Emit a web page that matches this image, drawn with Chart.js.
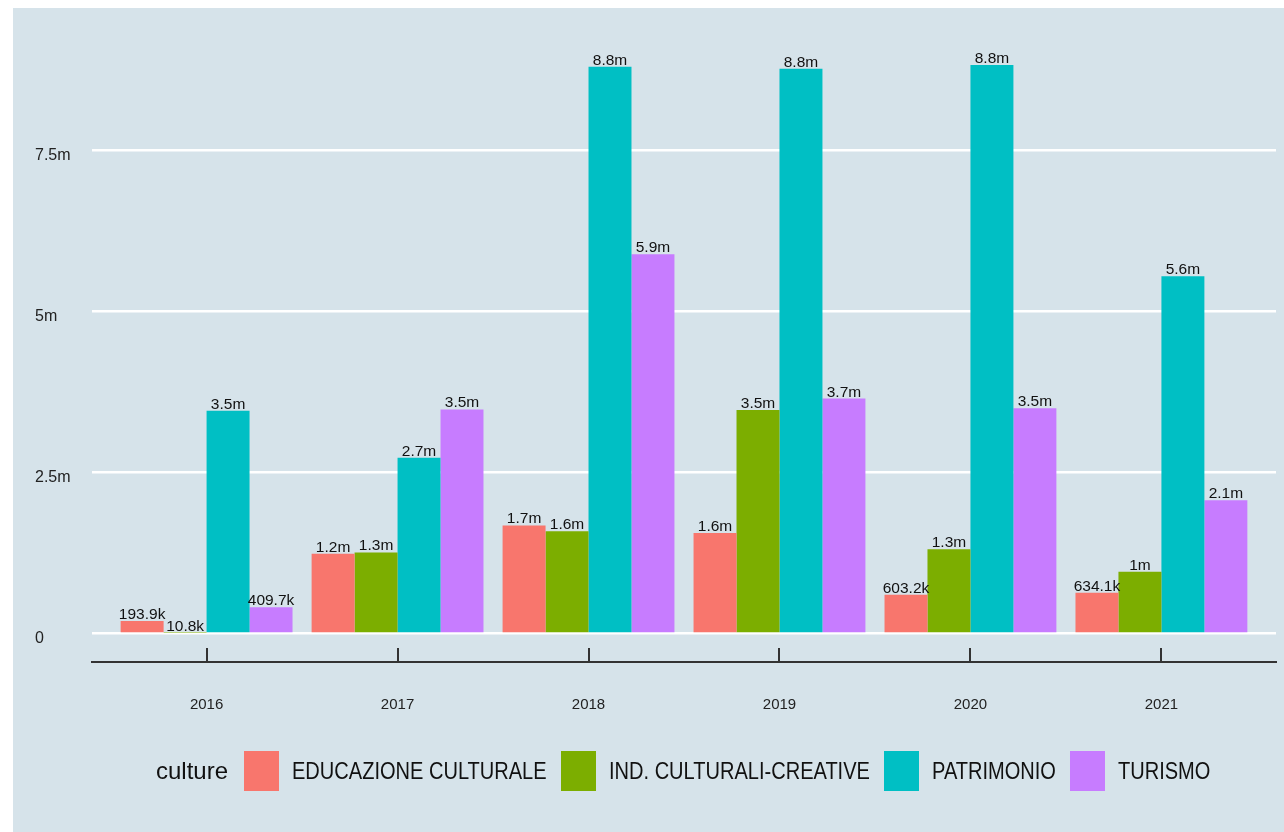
<!doctype html>
<html lang="en">

<head>
  <meta charset="utf-8">
  <title>culture</title>
  <style>
    * {
      margin: 0;
      padding: 0;
    }

    body {
      width: 1284px;
      height: 832px;
      background: #ffffff;
      overflow: hidden;
      position: relative;
    }

    .chartCard {
      position: absolute;
      left: 13px;
      top: 8px;
      width: 1271px;
      height: 824px;
      background: #d6e3ea;
    }

    .chartBox {
      position: absolute;
      left: 0;
      top: 0;
      width: 1271px;
      height: 824px;
    }

    .legend {
      position: absolute;
      left: 143px;
      top: 743px;
      height: 40px;
      display: flex;
      align-items: center;
      color: #111;
      white-space: nowrap;
    }

    .legend .title {
      font-family: 'Liberation Sans', Arial, sans-serif;
      font-size: 24px;
      margin-right: 16px;
    }

    .legend .swatch {
      width: 35px;
      height: 40px;
      margin-right: 13px;
      flex: none;
    }

    .legend .label {
      display: inline-block;
      font-family: 'Liberation Sans', Arial, sans-serif;
      font-size: 24px;
      transform: scaleX(0.835);
      transform-origin: left center;
    }
  </style>
</head>

<body>
  <div class="chartCard">
    <div class="chartBox">
      <canvas id="myChart"></canvas>
    </div>
    <div class="legend" id="legend"></div>
  </div>
  <script src="https://cdn.jsdelivr.net/npm/chart.js/dist/chart.umd.min.js"></script>
  <script>
    // data
    const years = ['2016', '2017', '2018', '2019', '2020', '2021'];
    const series = ['EDUCAZIONE CULTURALE', 'IND. CULTURALI-CREATIVE', 'PATRIMONIO', 'TURISMO'];
    const colors = ['#F8766D', '#7CAE00', '#00BFC4', '#C77CFF'];

    const educazione = [193900, 1240000, 1680000, 1560000, 603200, 634100];
    const industrie = [10800, 1260000, 1590000, 3470000, 1310000, 960000];
    const patrimonio = [3460000, 2730000, 8800000, 8770000, 8830000, 5550000];
    const turismo = [409700, 3480000, 5890000, 3650000, 3500000, 2070000];

    const educazioneLabels = ['193.9k', '1.2m', '1.7m', '1.6m', '603.2k', '634.1k'];
    const industrieLabels = ['10.8k', '1.3m', '1.6m', '3.5m', '1.3m', '1m'];
    const patrimonioLabels = ['3.5m', '2.7m', '8.8m', '8.8m', '8.8m', '5.6m'];
    const turismoLabels = ['409.7k', '3.5m', '5.9m', '3.7m', '3.5m', '2.1m'];

    const yTicks = [0, 2500000, 5000000, 7500000];

    const values = [educazione, industrie, patrimonio, turismo];
    const valueLabels = [educazioneLabels, industrieLabels, patrimonioLabels, turismoLabels];

    // ggplot-like 5% expansion of the value range
    const maxValue = Math.max(...values.flat());
    const yMin = -0.05 * maxValue;
    const yMax = 1.05 * maxValue;

    const fontFamily = "'Liberation Sans', Arial, sans-serif";

    const data = {
      datasets: series.map((name, i) => ({
        label: name,
        data: values[i].map((v, j) => ({ x: j, y: v })),
        backgroundColor: colors[i],
        borderWidth: 0,
        categoryPercentage: 0.9,
        barPercentage: 1.0
      }))
    };

    // value labels above each bar
    const barLabels = {
      id: 'barLabels',
      afterDatasetsDraw(chart) {
        const { ctx } = chart;
        ctx.save();
        ctx.font = '15.5px ' + fontFamily;
        ctx.fillStyle = '#111';
        ctx.textAlign = 'center';
        ctx.textBaseline = 'alphabetic';
        chart.data.datasets.forEach((ds, i) => {
          chart.getDatasetMeta(i).data.forEach((bar, j) => {
            ctx.fillText(valueLabels[i][j], bar.x, bar.y - 2);
          });
        });
        ctx.restore();
      }
    };

    // tick marks pointing up into the panel
    const insideTicks = {
      id: 'insideTicks',
      afterDraw(chart) {
        const { ctx, chartArea, scales: { x } } = chart;
        ctx.save();
        ctx.strokeStyle = '#333';
        ctx.lineWidth = 2;
        years.forEach((_, i) => {
          const px = Math.round(x.getPixelForValue(i));
          ctx.beginPath();
          ctx.moveTo(px, chartArea.bottom);
          ctx.lineTo(px, chartArea.bottom - 14);
          ctx.stroke();
        });
        ctx.restore();
      }
    };

    const config = {
      type: 'bar',
      data,
      options: {
        responsive: true,
        maintainAspectRatio: false,
        animation: false,
        layout: {
          padding: { left: 22, top: 28.5, right: 8, bottom: 90 }
        },
        plugins: {
          legend: { display: false },
          tooltip: { enabled: false }
        },
        scales: {
          x: {
            type: 'linear',
            offset: false,
            min: -0.6,
            max: 5.6,
            afterBuildTicks: (scale) => {
              scale.ticks = years.map((_, i) => ({ value: i }));
            },
            afterFit: (scale) => { scale.height = 80; },
            grid: { display: false, offset: false },
            border: { display: true, color: '#333', width: 2 },
            ticks: {
              autoSkip: false,
              maxRotation: 0,
              padding: 26,
              color: '#222',
              font: { family: fontFamily, size: 15 },
              callback: (v) => years[v]
            }
          },
          y: {
            min: yMin,
            max: yMax,
            afterBuildTicks: (scale) => {
              scale.ticks = yTicks.map(v => ({ value: v }));
            },
            afterFit: (scale) => { scale.width = 57; },
            grid: { color: '#ffffff', lineWidth: 2.5, drawTicks: false },
            border: { display: false },
            ticks: {
              crossAlign: 'far',
              padding: 0,
              labelOffset: 5,
              color: '#222',
              font: { family: fontFamily, size: 16 },
              callback: (v) => v === 0 ? '0' : (v / 1000000) + 'm'
            }
          }
        }
      },
      plugins: [barLabels, insideTicks]
    };

    const myChart = new Chart(document.getElementById('myChart'), config);

    // legend below the panel
    const legend = document.getElementById('legend');
    const title = document.createElement('span');
    title.className = 'title';
    title.textContent = 'culture';
    legend.appendChild(title);
    series.forEach((name, i) => {
      const sw = document.createElement('span');
      sw.className = 'swatch';
      sw.style.background = colors[i];
      legend.appendChild(sw);
      const lb = document.createElement('span');
      lb.className = 'label';
      lb.textContent = name;
      legend.appendChild(lb);
      // condensed text: give back the width lost by the horizontal squeeze
      const w = lb.getBoundingClientRect().width / 0.835;
      lb.style.marginRight = (14 - w * (1 - 0.835)) + 'px';
    });
  </script>
</body>

</html>
